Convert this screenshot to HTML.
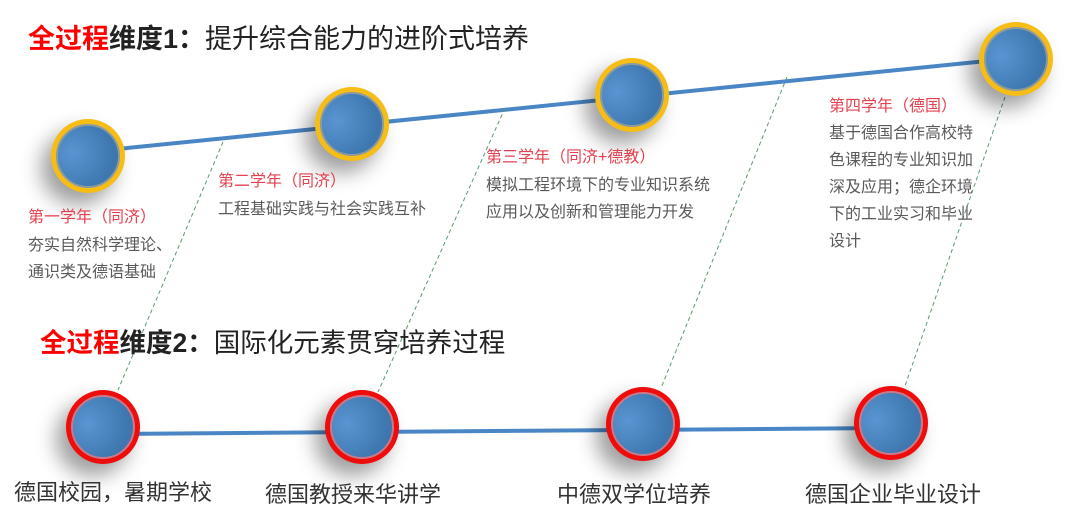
<!DOCTYPE html>
<html><head><meta charset="utf-8"><style>
body{margin:0;width:1080px;height:522px;background:#fff;overflow:hidden;position:relative;font-family:"Liberation Sans","Noto Sans CJK SC",sans-serif}
.t{position:absolute;white-space:nowrap;line-height:1}
.n{position:absolute;width:74px;height:74px;border-radius:50%;box-sizing:border-box;box-shadow:-10px 12px 20px rgba(0,0,0,.38)}
.n::after{content:"";position:absolute;left:5px;top:5px;right:5px;bottom:5px;border-radius:50%;border:2px solid #8a9aa0;background:radial-gradient(circle at 25% 45%,#5a95d2,#3f78b0 70%,#3a6ea3)}
.y{background:#f6bd16}.r{background:#ee0c0c}
.r::after{border-color:#c77b8a}
.h{color:#e5404f;font-size:16px}
.g{color:#5a5a5a;font-size:16px;line-height:27px}
.b{color:#333;font-size:22px}
</style></head><body>
<svg width="1080" height="522" style="position:absolute;left:0;top:0">
<line x1="88" y1="152" x2="1016" y2="58" stroke="#4a86c5" stroke-width="4"/>
<line x1="103" y1="434" x2="891" y2="428" stroke="#4a86c5" stroke-width="4"/>
<g stroke="#5a9a6a" stroke-width="1" stroke-dasharray="4,3">
<line x1="223" y1="142" x2="118" y2="390"/>
<line x1="505" y1="108" x2="378" y2="392"/>
<line x1="787" y1="77" x2="661" y2="388"/>
<line x1="1005" y1="97" x2="905" y2="386"/>
</g></svg>
<div class="n y" style="left:51px;top:119px"></div>
<div class="n y" style="left:315px;top:87px"></div>
<div class="n y" style="left:595px;top:58px"></div>
<div class="n y" style="left:979px;top:22px"></div>
<div class="n r" style="left:66px;top:390px"></div>
<div class="n r" style="left:325px;top:390px"></div>
<div class="n r" style="left:606px;top:387px"></div>
<div class="n r" style="left:854px;top:386px"></div>
<div class="t" style="left:28px;top:26px;font-size:27px;color:#222"><b style="color:#f00">全过程</b><b>维度1：</b>提升综合能力的进阶式培养</div>
<div class="t" style="left:40px;top:330px;font-size:26.5px;color:#222"><b style="color:#f00">全过程</b><b>维度2：</b>国际化元素贯穿培养过程</div>
<div class="t h" style="left:28px;top:210px">第一学年（同济）</div>
<div class="t g" style="left:28px;top:232px">夯实自然科学理论、<br>通识类及德语基础</div>
<div class="t h" style="left:218px;top:174px">第二学年（同济）</div>
<div class="t g" style="left:218px;top:196px">工程基础实践与社会实践互补</div>
<div class="t h" style="left:486px;top:150px">第三学年（同济+德教）</div>
<div class="t g" style="left:486px;top:172px">模拟工程环境下的专业知识系统<br>应用以及创新和管理能力开发</div>
<div class="t h" style="left:829px;top:99px">第四学年（德国）</div>
<div class="t g" style="left:829px;top:120px">基于德国合作高校特<br>色课程的专业知识加<br>深及应用；德企环境<br>下的工业实习和毕业<br>设计</div>
<div class="t b" style="left:14px;top:482px">德国校园，暑期学校</div>
<div class="t b" style="left:265px;top:484px">德国教授来华讲学</div>
<div class="t b" style="left:557px;top:484px">中德双学位培养</div>
<div class="t b" style="left:805px;top:484px">德国企业毕业设计</div>
</body></html>
